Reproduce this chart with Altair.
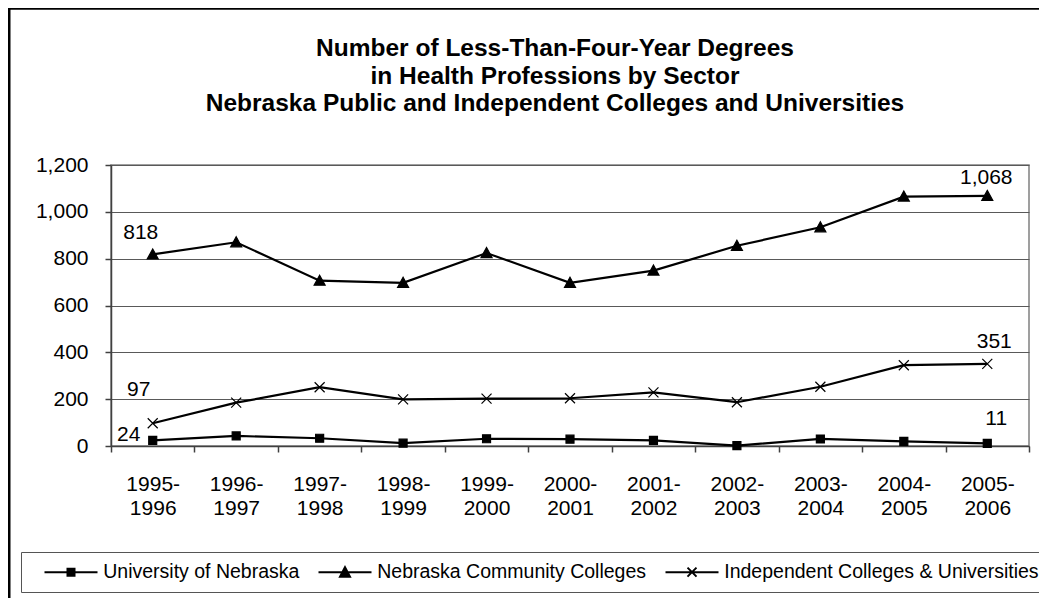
import altair as alt
import pandas as pd

# ---------------- data ----------------
years = ["1995-1996", "1996-1997", "1997-1998", "1998-1999", "1999-2000", "2000-2001",
         "2001-2002", "2002-2003", "2003-2004", "2004-2005", "2005-2006"]
series_names = ["University of Nebraska", "Nebraska Community Colleges",
                "Independent Colleges & Universities"]
univ = [24, 43, 33, 12, 31, 29, 24, 2, 30, 20, 11]
comm = [818, 870, 706, 697, 824, 697, 749, 855, 934, 1065, 1068]
indep = [97, 185, 251, 199, 202, 204, 229, 187, 253, 345, 351]
y_ticks = [0, 200, 400, 600, 800, 1000, 1200]
title_lines = ["Number of Less-Than-Four-Year Degrees",
               "in Health Professions by Sector",
               "Nebraska Public and Independent Colleges and Universities"]

rows = []
for name, vals in zip(series_names, [univ, comm, indep]):
    for yr, v in zip(years, vals):
        rows.append({"year": yr, "series": name, "value": v})
df = pd.DataFrame(rows)

# ---------------- layout / style ----------------
W, H = 918, 281
PAD = {"left": 103, "top": 157, "right": 10, "bottom": 152}
FONT = "Liberation Sans, Arial, Helvetica, sans-serif"

marker_paths = ["M-4,-4H4V4H-4Z",
                "M0,-5.5L5.5,4.5H-5.5Z",
                "M-5,-5L5,5M-5,5L5,-5"]
legend_paths = ["M-26.5,0H26.5M-3.5,-3.5H3.5V3.5H-3.5Z",
                "M-26.5,0H26.5M0,-5L5,4.5H-5Z",
                "M-26.5,0H26.5M-4.5,-4.5L4.5,4.5M-4.5,4.5L4.5,-4.5"]

x_enc = alt.X(
    "year:N", sort=years,
    scale=alt.Scale(type="band", domain=years, paddingInner=0, paddingOuter=0),
    axis=alt.Axis(title=None, labelAngle=0, grid=False, tickBand="extent",
                  labelExpr="[substring(datum.label, 0, 5), substring(datum.label, 5)]",
                  labelLineHeight=24, labelPadding=21.5, tickSize=6,
                  labelBaseline="top"),
)
y_enc = alt.Y(
    "value:Q",
    scale=alt.Scale(domain=[0, 1200], nice=False, zero=True),
    axis=alt.Axis(title=None, values=y_ticks, format=",.0f", grid=True,
                  labelPadding=17, tickSize=6),
)

base = alt.Chart(df)

lines = base.mark_line(color="black", strokeWidth=2.2).encode(
    x=x_enc, y=y_enc, detail="series:N"
)

points = base.mark_point(filled=True, fill="black", stroke="black",
                         strokeWidth=1.2, size=4, opacity=1).encode(
    x=x_enc, y=y_enc,
    shape=alt.Shape("series:N",
                    scale=alt.Scale(domain=series_names, range=marker_paths),
                    legend=None),
)

legend_props = dict(
    title=None, orient="none", legendX=-90, legendY=387,
    direction="horizontal", columns=3, columnPadding=5, padding=10,
    strokeColor="#555555",
    labelFont=FONT, labelFontSize=19.5, labelColor="black",
    labelLimit=500, labelOffset=22.5,
    symbolOffset=30.25, symbolSize=4, symbolStrokeWidth=2, symbolOpacity=1,
)

legend_layer = base.transform_filter("false").mark_point(
    filled=True, fill="black", strokeWidth=2, size=4, opacity=1
).encode(
    x=x_enc, y=y_enc,
    shape=alt.Shape(
        "series:N",
        scale=alt.Scale(domain=series_names, range=legend_paths),
        legend=alt.Legend(**legend_props),
    ),
    stroke=alt.Stroke(
        "series:N",
        scale=alt.Scale(domain=series_names, range=["black", "black", "black"]),
        legend=alt.Legend(**legend_props),
    ),
)

# data labels at the first and last points of each series
label_specs = [
    ("Nebraska Community Colleges", 0, -12, -21),
    ("Independent Colleges & Universities", 0, -14, -33),
    ("University of Nebraska", 0, -24, -5),
    ("Nebraska Community Colleges", 10, -1, -18),
    ("Independent Colleges & Universities", 10, 7, -22),
    ("University of Nebraska", 10, 9, -24),
]
label_layers = []
for s, i, dx, dy in label_specs:
    label_layers.append(
        base.transform_filter((alt.datum.series == s) & (alt.datum.year == years[i]))
        .mark_text(dx=dx, dy=dy, font=FONT, fontSize=21, color="black",
                   align="center", baseline="middle")
        .encode(x=x_enc, y=y_enc, text=alt.Text("value:Q", format=",.0f"))
    )

# outer chart frame (top and left edges; right/bottom lie outside the picture)
frame_data = alt.Data(values=[{"k": 1}])
frame_top = alt.Chart(frame_data).mark_rule(color="black", strokeWidth=2.5).encode(
    x=alt.value(-PAD["left"]), x2=alt.value(W + PAD["right"]), y=alt.value(-156.5)
)
frame_left = alt.Chart(frame_data).mark_rule(color="black", strokeWidth=2.5).encode(
    x=alt.value(-101.75), y=alt.value(-157), y2=alt.value(H + PAD["bottom"])
)

chart = (
    alt.layer(frame_top, frame_left, lines, points, legend_layer, *label_layers)
    .resolve_scale(shape="independent", stroke="independent")
    .properties(
        width=W, height=H,
        padding=PAD,
        autosize=alt.AutoSizeParams(type="none"),
        title=alt.TitleParams(
            text=title_lines, font=FONT, fontSize=24.5, fontWeight="bold",
            color="black", lineHeight=27.5, anchor="middle", frame="group",
            baseline="bottom", offset=0, dx=-15, dy=134,
        ),
    )
    .configure_view(stroke="#808080", strokeWidth=1.5)
    .configure_axis(labelFont=FONT, labelFontSize=21, labelColor="black",
                    domainColor="#404040", domainWidth=1.5,
                    tickColor="#404040", tickWidth=1.5,
                    gridColor="#595959", gridWidth=1)
)

chart.save("out.html", embed_options={"renderer": "svg", "actions": False})
